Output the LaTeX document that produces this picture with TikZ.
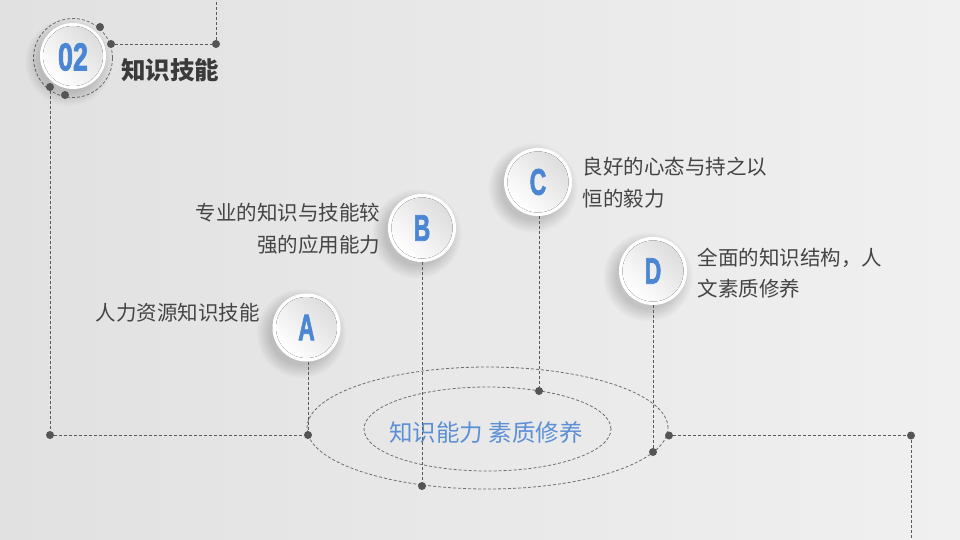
\documentclass[tikz,border=0pt]{standalone}
\usepackage{fontspec}
\usepackage{graphicx}
\newfontfamily\cjk{Noto Sans CJK SC}
\newfontfamily\latb{Liberation Sans}[BoldFeatures={FakeBold=2.2}]
\definecolor{bgL}{HTML}{E1E1E1}
\definecolor{bgR}{HTML}{F0F0F0}
\definecolor{lineC}{HTML}{5A5A5A}
\definecolor{ellC}{HTML}{6E6E6E}
\definecolor{dotC}{HTML}{555555}
\definecolor{blueL}{HTML}{4A86D4}
\definecolor{blueT}{HTML}{5B8FD6}
\definecolor{txt}{HTML}{444444}
\definecolor{ttl}{HTML}{3A3A3A}
\definecolor{faceG}{HTML}{DDDDDD}
\newcommand{\mybubble}[4]{%
  \foreach \k in {0,...,9}{\fill[black,opacity=0.015] ($(#2,#3)+(-5,6)$) circle ({32pt+\k*1.4pt});}
  \node[bubble] (#1) at (#2,#3) {};
  \fill[shading=axis,top color=faceG,bottom color=white,shading angle=-45] (#1.center) circle (30.5pt);
  \node[lettern] at (#1.center) {\latb\bfseries\fontsize{37}{37}\selectfont\scalebox{0.62}[1]{#4}};
}
\usetikzlibrary{calc}
\begin{document}
\begin{tikzpicture}[x=1pt,y=-1pt,
  dline/.style={draw=lineC,line width=0.8pt,dash pattern=on 3pt off 2pt},
  eline/.style={draw=ellC,line width=0.8pt,dash pattern=on 3pt off 2pt},
  dotn/.style={circle,fill=dotC,minimum size=8pt,inner sep=0pt},
  bubble/.style={circle,fill=white,minimum size=68pt,inner sep=0pt},
  lettern/.style={text=blueL,inner sep=0pt},
  lbl/.style={text=txt,inner sep=0pt,font=\cjk\fontsize{20.5}{31.5}\selectfont}
]
\shade[left color=bgL,right color=bgR] (0,0) rectangle (960,540);
\useasboundingbox (0,0) rectangle (960,540);

% badge
\draw[eline] (73,58) circle (39.5pt);
\foreach \k in {0,...,9}{\fill[black,opacity=0.015] (69,62) circle ({31pt+\k*1.4pt});}
\node[circle,fill=white,minimum size=66pt,inner sep=0pt] (badge) at (73,56) {};
\fill[shading=axis,top color=faceG,bottom color=white,shading angle=-45] (badge.center) circle (30pt);
\node[lettern] at (73,57) {\latb\bfseries\fontsize{39}{39}\selectfont\scalebox{0.69}[1]{02}};
\node[anchor=west,inner sep=0pt,text=ttl,font=\cjk\bfseries\fontsize{24.5}{28}\selectfont] (title) at (121,70) {知识技能};

% dots
\node[dotn] (d1) at (100,27) {};
\node[dotn] (d2) at (111,44) {};
\node[dotn] (d3) at (216,44) {};
\node[dotn] (d4) at (50,87) {};
\node[dotn] (d5) at (65,95) {};
\node[dotn] (d6) at (50,435) {};
\coordinate (top) at (216,0);
\coordinate (bot) at (911,540);

% ellipses
\draw[eline] (487.5,428) ellipse [x radius=180.5pt, y radius=61pt];
\draw[eline] (487.5,429) ellipse [x radius=123.5pt, y radius=42pt];
\node[inner sep=0pt,text=blueT,font=\cjk\fontsize{23.5}{28}\selectfont] (core) at (486,433) {知识能力 素质修养};

\node[dotn] (dA) at (308,435) {};
\node[dotn] (dB) at (422,486) {};
\node[dotn] (dC) at (539,391) {};
\node[dotn] (dD) at (653,452) {};
\node[dotn] (dR) at (669,435.5) {};
\node[dotn] (dF) at (911,435.5) {};

% connectors
\draw[dline] (d2) -- (d3) -- (top);
\draw[dline] (d4) -- (d6) -- (dA);
\draw[dline] (dR) -- (dF) -- (bot);

% bubbles
\mybubble{cA}{306.5}{327.5}{A}
\mybubble{cB}{422}{228}{B}
\mybubble{cC}{538}{182}{C}
\mybubble{cD}{653}{271}{D}

\draw[dline] (dA |- cA.south) -- (dA);
\draw[dline] (dB |- cB.south) -- (dB);
\draw[dline] (dC |- cC.south) -- (dC);
\draw[dline] (dD |- cD.south) -- (dD);

% labels
\node[lbl,anchor=east] (tA) at (260,313) {人力资源知识技能};
\node[lbl,anchor=east,align=right] (tB) at (380.5,228.5) {专业的知识与技能较\\强的应用能力};
\node[lbl,anchor=west,align=left] (tC) at (582.5,182.5) {良好的心态与持之以\\恒的毅力};
\node[lbl,anchor=west,align=left] (tD) at (697.5,273) {全面的知识结构，人\\文素质修养};
\end{tikzpicture}
\end{document}
